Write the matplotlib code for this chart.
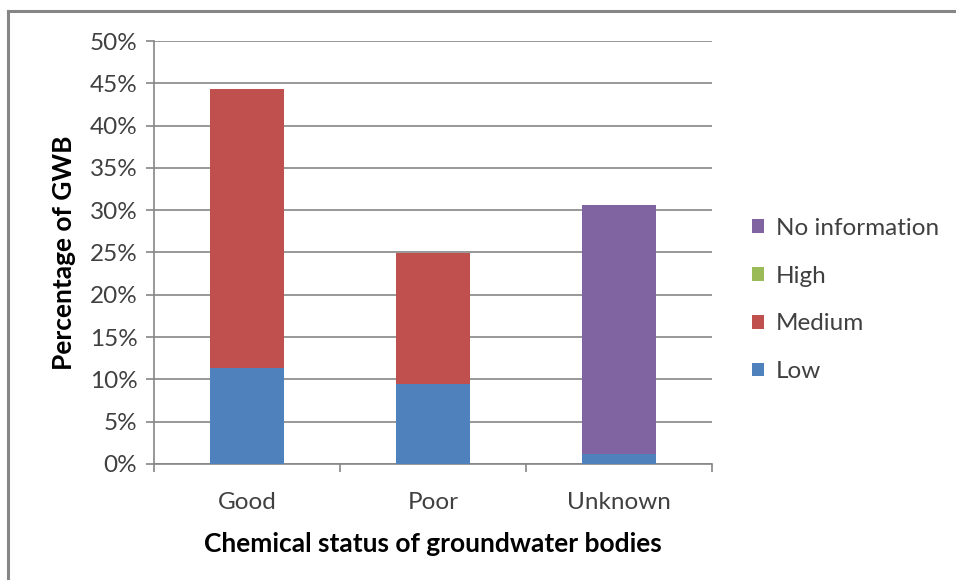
import numpy as np
import matplotlib.pyplot as plt
from matplotlib.lines import Line2D
from matplotlib.ticker import FixedLocator, PercentFormatter

plt.rcParams["font.family"] = "Lato"

categories = ["Good", "Poor", "Unknown"]
series_names = ["Low", "Medium", "High", "No information"]
low = [11.4, 9.4, 1.2]
medium = [32.9, 15.6, 0.0]
high = [0.0, 0.0, 0.0]
no_info = [0.0, 0.0, 29.4]
colors = ["#4F81BD", "#C0504D", "#9BBB59", "#8064A2"]

grey = "#868686"
text_col = "#404040"
fs = 17.5

fig = plt.figure(figsize=(9.56, 5.8), dpi=100)
ax = fig.add_axes([154 / 956, 116 / 580, 558 / 956, 423 / 580])

# outer chart frame (left and top edges)
fx, fy = 8 / 956, 1 - 11 / 580
fig.add_artist(Line2D([fx, fx], [0, fy], transform=fig.transFigure,
                      color=grey, linewidth=2.2))
fig.add_artist(Line2D([fx, 1], [fy, fy], transform=fig.transFigure,
                      color=grey, linewidth=2.2))

x = np.arange(len(categories))
bottom = np.zeros(len(categories))
handles = []
for name, vals, c in zip(series_names, [low, medium, high, no_info], colors):
    b = ax.bar(x, vals, 0.4, bottom=bottom, color=c, label=name, zorder=3)
    handles.append(b)
    bottom += np.array(vals)

ax.set_xlim(-0.5, 2.5)
ax.set_ylim(0, 50)
ax.set_yticks(np.arange(0, 51, 5))
ax.yaxis.set_major_formatter(PercentFormatter(decimals=0))
ax.grid(axis="y", color=grey, linewidth=1.2, zorder=0)

ax.set_xticks(x)
ax.set_xticklabels(categories)
ax.xaxis.set_minor_locator(FixedLocator([-0.5, 0.5, 1.5, 2.5]))
ax.tick_params(axis="x", which="major", length=0, pad=20,
               labelsize=fs, labelcolor=text_col)
ax.tick_params(axis="x", which="minor", length=6, color=grey, width=1.2)
ax.tick_params(axis="y", length=6, color=grey, width=1.2, pad=6,
               labelsize=fs, labelcolor=text_col)

for side in ["top", "right"]:
    ax.spines[side].set_visible(False)
for side in ["left", "bottom"]:
    ax.spines[side].set_color(grey)
    ax.spines[side].set_linewidth(1.2)

ax.set_ylabel("Percentage of GWB", fontsize=19, fontweight="bold", labelpad=10)
ax.set_xlabel("Chemical status of groundwater bodies", fontsize=19,
              fontweight="bold", labelpad=14)

leg = fig.legend(handles[::-1], series_names[::-1], loc="center left",
                 bbox_to_anchor=(730 / 956, 1 - 300 / 580), frameon=False,
                 fontsize=fs, handlelength=0.5, handleheight=0.5,
                 handletextpad=0.5, labelspacing=1.1, labelcolor=text_col)

plt.savefig("out.png", dpi=100)
